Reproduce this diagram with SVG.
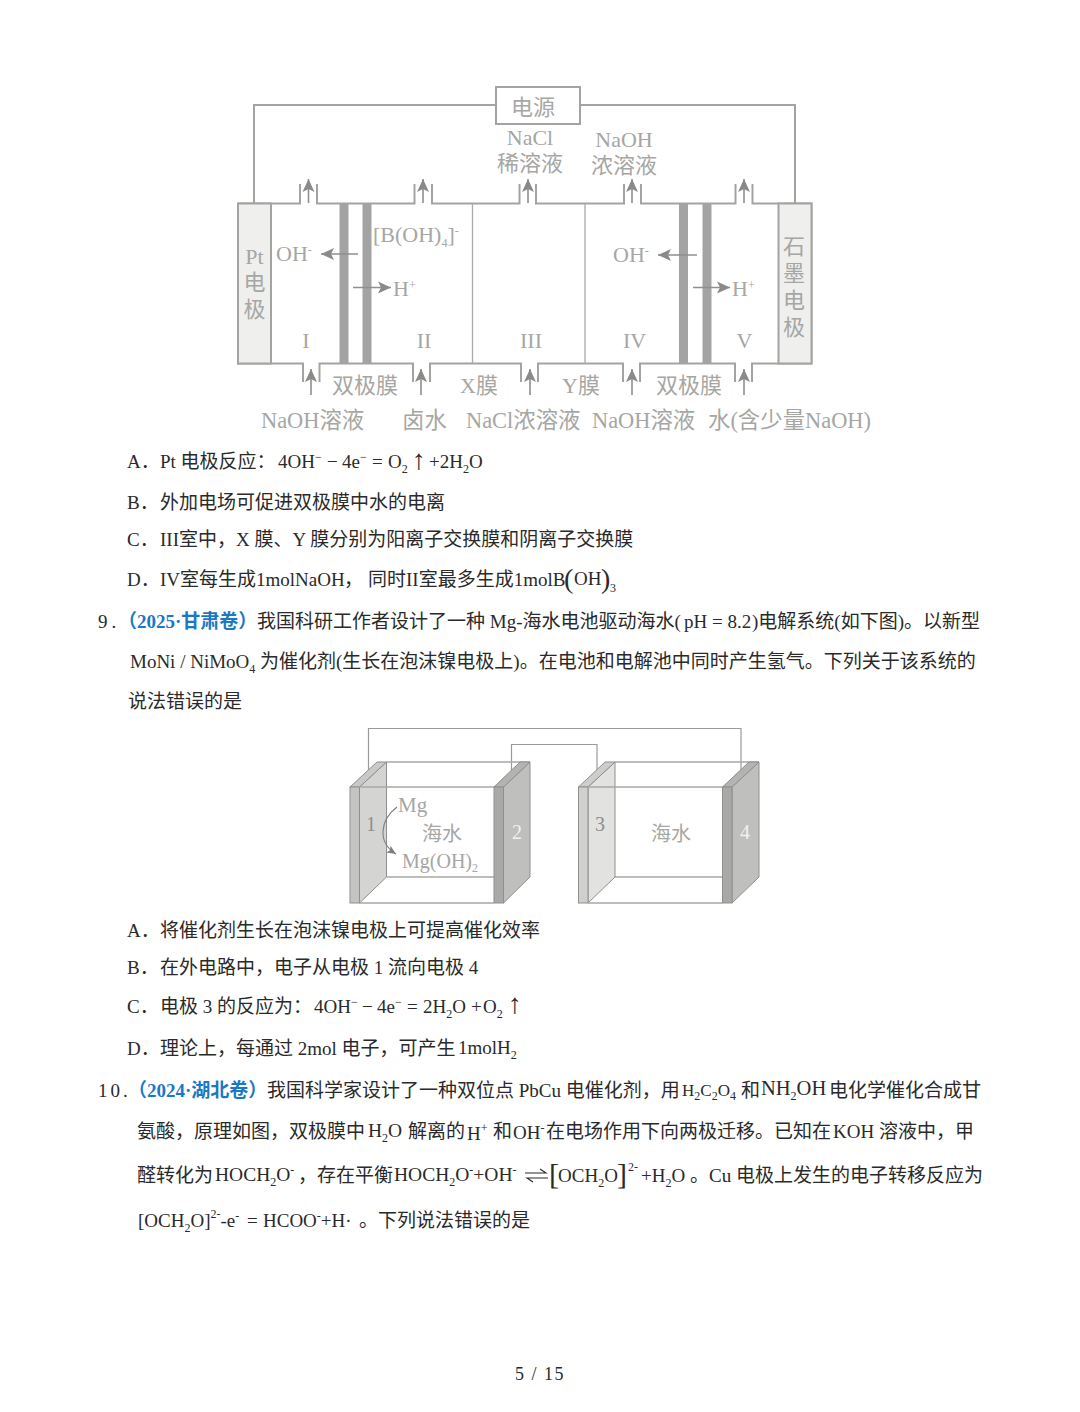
<svg xmlns="http://www.w3.org/2000/svg" width="1080" height="1412" viewBox="0 0 1080 1412">
<style>
text{font-family:"Liberation Serif","Noto Sans CJK SC",serif;font-size:19px;fill:#2a2a2a}
.b{fill:#1b78c4;font-weight:700}
.g text,text.g{fill:#a6a6a4;font-size:22px}
.c{text-anchor:middle}
.s{font-size:12px}
.ln{fill:none;stroke:#a3a3a1;stroke-width:2}
.th{fill:none;stroke:#a8a8a6;stroke-width:1.3}
.ar{fill:none;stroke:#8f8f8d;stroke-width:1.6}
.w{fill:none;stroke:#9a9a98;stroke-width:1.2}
.up{font-size:28px}
</style>
<defs>
<marker id="h" markerUnits="userSpaceOnUse" markerWidth="14" markerHeight="14" refX="13" refY="7" orient="auto"><path d="M0 1 L13 7 L0 13 L3 7Z" fill="#8a8a88"/></marker>
<marker id="h2" markerUnits="userSpaceOnUse" markerWidth="10" markerHeight="10" refX="9" refY="5" orient="auto"><path d="M0 1 L9 5 L0 9 L2 5Z" fill="#7f7f7d"/></marker>
</defs>
<rect width="1080" height="1412" fill="#fff"/>

<g id="fig1-connectors">
<path class="ln" d="M496 105H254V203M580 105H795V203"/>
<path class="ln" d="M238 203.500H300V184M317 184V203.500H414.500V184M432 184V203.500H519.500V184M536 184V203.500H624V184M641 184V203.500H735.500V184M752.500 184V203.500H811.500V363.500H752V382M735 382V363.500H640V382M623 382V363.500H538V382M521 382V363.500H430V382M413 382V363.500H319.500V382M303 382V363.500H238V203.500"/>
<path class="th" d="M472.500 203.500V363.500M585 203.500V363.500"/>
<g class="ar">
<path marker-end="url(#h)" d="M308.500 203V179"/><path marker-end="url(#h)" d="M423 203V179"/><path marker-end="url(#h)" d="M528 203V179"/><path marker-end="url(#h)" d="M632 203V179"/><path marker-end="url(#h)" d="M744 203V179"/>
<path marker-end="url(#h)" d="M311 395V369"/><path marker-end="url(#h)" d="M421 395V369"/><path marker-end="url(#h)" d="M530 395V369"/><path marker-end="url(#h)" d="M632 395V369"/><path marker-end="url(#h)" d="M744 395V369"/>
</g>
</g>
<g id="power"><rect class="ln" x="496" y="87" width="84" height="37" fill="#fff"/><text class="g c" x="533" y="115">电源</text></g>
<g id="pt-electrode"><rect x="238" y="203.500" width="33" height="160" fill="#efefed" stroke="#a3a3a1" stroke-width="2"/>
<text class="g c" x="254.500" y="264">Pt</text><text class="g c" x="254.500" y="290">电</text><text class="g c" x="254.500" y="317">极</text></g>
<g id="graphite-electrode"><rect x="778.500" y="203.500" width="33" height="160" fill="#efefed" stroke="#a3a3a1" stroke-width="2"/>
<text class="g c" x="794" y="254">石</text><text class="g c" x="794" y="281">墨</text><text class="g c" x="794" y="308">电</text><text class="g c" x="794" y="335">极</text></g>
<g id="membranes" fill="#a3a3a3"><rect x="339.500" y="203" width="9" height="161"/><rect x="362.500" y="203" width="9" height="161"/><rect x="679" y="203" width="9" height="161"/><rect x="702.500" y="203" width="9" height="161"/></g>
<g id="ion-arrows" class="ar">
<path marker-end="url(#h)" d="M358 254H321"/><path marker-end="url(#h)" d="M353 287.500H391"/><path marker-end="url(#h)" d="M697 255H658"/><path marker-end="url(#h)" d="M693 287.500H730"/>
</g>
<g id="fig1-labels" class="g">
<text class="c" x="530" y="145">NaCl</text><text class="c" x="530" y="171">稀溶液</text>
<text class="c" x="624" y="147">NaOH</text><text class="c" x="624" y="173">浓溶液</text>
<text x="276" y="261">OH<tspan dy="-7" class="s" style="fill:#a6a6a4">-</tspan></text>
<text x="373" y="242">[B(OH)<tspan dy="5" class="s" style="fill:#a6a6a4">4</tspan><tspan dy="-5">]</tspan><tspan dy="-7" class="s" style="fill:#a6a6a4">-</tspan></text>
<text x="393" y="296">H<tspan dy="-7" class="s" style="fill:#a6a6a4">+</tspan></text>
<text x="613" y="262">OH<tspan dy="-7" class="s" style="fill:#a6a6a4">-</tspan></text>
<text x="732" y="296">H<tspan dy="-7" class="s" style="fill:#a6a6a4">+</tspan></text>
<text class="c" x="306" y="348">I</text><text class="c" x="424" y="348">II</text><text class="c" x="531" y="348">III</text><text class="c" x="634.500" y="348">IV</text><text class="c" x="744.500" y="348">V</text>
<text x="332" y="393">双极膜</text><text x="460" y="393">X膜</text><text x="562" y="393">Y膜</text><text x="656" y="393">双极膜</text>
<g style="font-size:22.400px"><text style="font-size:22.400px" x="261" y="428">NaOH溶液</text><text style="font-size:22.400px" x="402" y="428">卤水</text><text style="font-size:22.400px" x="466" y="428">NaCl浓溶液</text><text style="font-size:22.400px" x="592" y="428">NaOH溶液</text><text style="font-size:22.400px" x="708" y="428">水(含少量NaOH)</text></g>
</g>

<g id="q8-options">
<text x="127" y="468">A．</text><text x="160" y="468">Pt 电极反应：</text>
<text x="278" y="468">4OH<tspan class="s" dy="-7">−</tspan><tspan x="327" dy="7">−</tspan><tspan x="342">4e</tspan><tspan class="s" dy="-7">−</tspan><tspan x="372" dy="7">=</tspan><tspan x="388">O</tspan><tspan class="s" dy="5">2</tspan></text>
<text x="412" y="469" class="up">↑</text>
<text x="429" y="468">+2H<tspan class="s" dy="5">2</tspan><tspan dy="-5">O</tspan></text>
<text x="127" y="509">B．</text><text x="160" y="509">外加电场可促进双极膜中水的电离</text>
<text x="127" y="546">C．</text><text x="160" y="546">III室中，X 膜、Y 膜分别为阳离子交换膜和阴离子交换膜</text>
<text x="127" y="586">D．</text><text x="160" y="586">IV室每生成1molNaOH</text><text x="344" y="586">，</text><text x="368" y="586">同时II室最多生成1molB</text><text x="564" y="588" style="font-size:28px">(</text><text x="574" y="585">OH</text><text x="601" y="588" style="font-size:28px">)</text><text x="610" y="592" class="s">3</text>
</g>

<g id="q9-text">
<text x="98" y="628" letter-spacing="4">9.</text><text class="b" x="118" y="628">（2025·甘肃卷）</text>
<text x="257" y="628">我国科研工作者设计了一种 Mg-海水电池驱动海水(<tspan x="684">pH = 8.2</tspan><tspan x="752">)电解系统(如下图)。以新型</tspan></text>
<text x="130" y="668">MoNi / NiMoO<tspan class="s" dy="5">4</tspan><tspan x="260" dy="-5">为催化剂(生长在泡沫镍电极上)。在电池和电解池中同时产生氢气。下列关于该系统的</tspan></text>
<text x="128" y="708">说法错误的是</text>
</g>

<g id="fig2-connectors"><path class="w" d="M368.500 770V728.500H741V775M511.500 772V744.500H597V772"/></g>
<g id="cell-1">
<path class="th" d="M386.500 762H530M386.500 877H494"/>
<path d="M359.500 787L386.500 762V877L359.500 903Z" fill="#b8b8b6" fill-opacity=".6" stroke="#8f8f8d"/>
<path d="M350 787L377 762H386.500L359.500 787Z" fill="#c9c9c7" stroke="#8f8f8d"/>
<path d="M503.500 787L530 762V877L503.500 903Z" fill="#bfbfbd" stroke="#8f8f8d"/>
<path d="M494 787L520 762H530L503.500 787Z" fill="#b3b3b1" stroke="#8f8f8d"/>
<rect x="350" y="787" width="9.500" height="116" fill="#c4c4c2" stroke="#8f8f8d"/>
<rect x="494" y="787" width="9.500" height="116" fill="#a9a9a7" stroke="#8f8f8d"/>
<path class="th" d="M359.500 787H494M359.500 903H494"/>
<path fill="none" stroke="#7f7f7d" stroke-width="1.100" marker-end="url(#h2)" d="M397 807C380 820 377 842 396 854"/>
<g class="g"><text x="398" y="812" style="font-size:21px">Mg</text><text class="c" x="442" y="841" style="font-size:20px">海水</text><text x="402" y="868" style="font-size:20px">Mg(OH)<tspan class="s" dy="4" style="fill:#a6a6a4">2</tspan></text><text class="c" x="371" y="831" style="font-size:20px;fill:#8f8f8d">1</text><text class="c" x="517" y="839" style="font-size:20px;fill:#f2f2f2">2</text></g>
</g>
<g id="cell-2">
<path class="th" d="M615 762H759M615 877H723"/>
<path d="M588 787L615 762V877L588 903Z" fill="#cfcfcd" fill-opacity=".6" stroke="#8f8f8d"/>
<path d="M578.500 787L605 762H615L588 787Z" fill="#cdcdcb" stroke="#8f8f8d"/>
<path d="M732 787L759 762V877L732 903Z" fill="#bfbfbd" stroke="#8f8f8d"/>
<path d="M722.500 787L749 762H759L732 787Z" fill="#b3b3b1" stroke="#8f8f8d"/>
<rect x="578.500" y="787" width="9.500" height="116" fill="#d0d0ce" stroke="#8f8f8d"/>
<rect x="722.500" y="787" width="9.500" height="116" fill="#a9a9a7" stroke="#8f8f8d"/>
<path class="th" d="M588 787H722.500M588 903H722.500"/>
<g class="g"><text class="c" x="671" y="841" style="font-size:20px">海水</text><text class="c" x="600" y="831" style="font-size:20px;fill:#8f8f8d">3</text><text class="c" x="745" y="839" style="font-size:20px;fill:#f2f2f2">4</text></g>
</g>

<g id="q9-options">
<text x="127" y="937">A．</text><text x="160" y="937">将催化剂生长在泡沫镍电极上可提高催化效率</text>
<text x="127" y="974">B．</text><text x="160" y="974">在外电路中，电子从电极 1 流向电极 4</text>
<text x="127" y="1013">C．</text><text x="160" y="1013">电极 3 的反应为：</text>
<text x="314" y="1013">4OH<tspan class="s" dy="-7">−</tspan><tspan x="362" dy="7">−</tspan><tspan x="377">4e</tspan><tspan class="s" dy="-7">−</tspan><tspan x="407" dy="7">=</tspan><tspan x="423">2H</tspan><tspan class="s" dy="5">2</tspan><tspan dy="-5">O</tspan><tspan x="471">+</tspan><tspan x="483">O</tspan><tspan class="s" dy="5">2</tspan></text>
<text x="508" y="1013" class="up">↑</text>
<text x="127" y="1055">D．</text><text x="160" y="1055">理论上，每通过 2mol 电子，可产生</text><text x="458" y="1054">1molH<tspan class="s" dy="5">2</tspan></text>
</g>

<g id="q10-text">
<text x="98" y="1097" letter-spacing="3">10.</text><text class="b" x="128" y="1097">（2024·湖北卷）</text>
<text x="267" y="1097">我国科学家设计了一种双位点 PbCu 电催化剂，用</text>
<text x="682" y="1096" style="font-size:17px">H<tspan class="s" dy="4">2</tspan><tspan dy="-4">C</tspan><tspan class="s" dy="4">2</tspan><tspan dy="-4">O</tspan><tspan class="s" dy="4">4</tspan></text>
<text x="741" y="1097">和</text>
<text x="761" y="1095" style="font-size:20.500px">NH<tspan class="s" dy="5">2</tspan><tspan dy="-5">OH</tspan></text>
<text x="829" y="1097">电化学催化合成甘</text>
<text x="137" y="1138">氨酸，原理如图，双极膜中</text>
<text x="368" y="1137" style="font-size:19.500px">H<tspan class="s" dy="5">2</tspan><tspan dy="-5">O</tspan></text>
<text x="408" y="1138">解离的</text><text x="467" y="1140">H<tspan class="s" dy="-8">+</tspan></text><text x="493" y="1138">和</text><text x="513" y="1139">OH<tspan class="s" dy="-7">-</tspan></text>
<text x="546" y="1138">在电场作用下向两极迁移。已知在</text><text x="833" y="1138">KOH</text><text x="879" y="1138">溶液中，甲</text>
<text x="137" y="1182">醛转化为</text><text x="215" y="1181" style="font-size:19.500px">HOCH<tspan class="s" dy="5">2</tspan><tspan dy="-5">O</tspan><tspan class="s" dy="-7">-</tspan></text><text x="298" y="1182">，存在平衡</text>
<text x="394" y="1181" style="font-size:19.500px">HOCH<tspan class="s" dy="5">2</tspan><tspan dy="-5">O</tspan><tspan class="s" dy="-7">-</tspan><tspan dy="7">+OH</tspan><tspan class="s" dy="-7">-</tspan></text>
<path d="M525 1173H546L540 1169M548 1178H527L533 1182" fill="none" stroke="#2a2a2a" stroke-width="1.100"/>
<text x="549" y="1184" style="font-size:30px;font-weight:300">[</text>
<text x="558" y="1182">OCH<tspan class="s" dy="5">2</tspan><tspan dy="-5">O</tspan></text>
<text x="617" y="1184" style="font-size:30px;font-weight:300">]</text>
<text x="628" y="1171" class="s">2-</text>
<text x="641" y="1182">+H<tspan class="s" dy="5">2</tspan><tspan dy="-5">O</tspan></text>
<text x="690" y="1182">。Cu 电极上发生的电子转移反应为</text>
<text x="138" y="1227">[OCH<tspan class="s" dy="5">2</tspan><tspan dy="-5">O]</tspan><tspan class="s" dy="-9">2-</tspan><tspan dy="9">-e</tspan><tspan class="s" dy="-7">-</tspan></text>
<text x="247" y="1227">=</text><text x="263" y="1227">HCOO<tspan class="s" dy="-7">-</tspan><tspan dy="7">+H·</tspan></text>
<text x="359" y="1227">。下列说法错误的是</text>
</g>

<text id="page-number" class="c" x="540" y="1380" style="font-size:18px;letter-spacing:1.500px">5 / 15</text>
</svg>
